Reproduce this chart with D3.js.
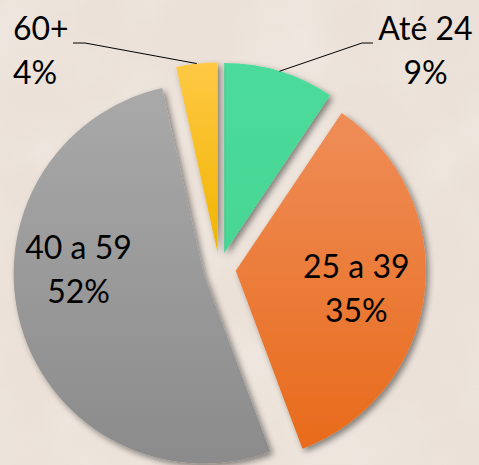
<!DOCTYPE html>
<html><head><meta charset="utf-8">
<script src="https://cdn.jsdelivr.net/npm/d3@7"></script>
<style>html,body{margin:0;padding:0;background:#ECE3DB;overflow:hidden}</style>
</head><body><svg id="c" width="479" height="465"></svg>
<script>
// ---- data ----
const categories = ["Até 24", "25 a 39", "40 a 59", "60+"];
const values = [9.4, 34.9, 52.2, 3.5];
const percentLabels = ["9%", "35%", "52%", "4%"];

// ---- layout / style ----
const W = 479, H = 465;
const cx = 219.4, cy = 268.8, R = 190, explode = 16.5;
const sliceColors = [
  ["#4CDB9A", "#47D694"],
  ["#EF8D58", "#E86B1B"],
  ["#A9A9A9", "#8B8B8B"],
  ["#FFC945", "#F0B400"]
];
const labelLayout = [
  {type: "out", x: 425.5, y: 40, anchor: "middle", lineStart: [[373, 43], [362, 43]]},
  {type: "in", angle: 93.3, r: 120.7},
  {type: "in", angle: 276.4, r: 125.8},
  {type: "out", x: 13, y: 40, anchor: "start", lineStart: [[73, 43], [85, 43]]}
];
const fontFamily = "Lato, 'Open Sans', sans-serif";
const fontSize = 32, lineGap = 44;

const svg = d3.select("#c");
const defs = svg.append("defs");

// background texture
const tex = defs.append("filter").attr("id", "tex").attr("x", 0).attr("y", 0).attr("width", 1).attr("height", 1);
tex.append("feTurbulence").attr("type", "fractalNoise").attr("baseFrequency", 0.012).attr("numOctaves", 3).attr("seed", 4).attr("result", "n");
tex.append("feColorMatrix").attr("in", "n").attr("type", "matrix")
  .attr("values", "0 0 0 0 1  0 0 0 0 1  0 0 0 0 1  1.2 0 0 0 -0.45");
svg.append("rect").attr("width", W).attr("height", H).attr("fill", "#EBE1D8");
svg.append("rect").attr("width", W).attr("height", H).attr("fill", "#fff").attr("filter", "url(#tex)").attr("opacity", 0.35);

// shadow
const sh = defs.append("filter").attr("id", "sh").attr("x", "-20%").attr("y", "-20%").attr("width", "140%").attr("height", "140%");
sh.append("feDropShadow").attr("dx", 3).attr("dy", 3).attr("stdDeviation", 3)
  .attr("flood-color", "#000").attr("flood-opacity", 0.45);

sliceColors.forEach((c, i) => {
  const g = defs.append("linearGradient").attr("id", "g" + i).attr("x1", 0).attr("y1", 0).attr("x2", 0).attr("y2", 1);
  g.append("stop").attr("offset", "0%").attr("stop-color", c[0]);
  g.append("stop").attr("offset", "100%").attr("stop-color", c[1]);
});

const pie = d3.pie().sort(null).value(d => d)(values);
const arc = d3.arc().innerRadius(0).outerRadius(R);

const root = svg.append("g").attr("transform", `translate(${cx},${cy})`);

const apex = d => {
  const m = (d.startAngle + d.endAngle) / 2;
  return [explode * Math.sin(m), -explode * Math.cos(m)];
};

root.selectAll("path.slice").data(pie).join("path")
  .attr("class", "slice")
  .attr("transform", d => `translate(${apex(d)})`)
  .attr("d", arc)
  .attr("fill", (d, i) => `url(#g${i})`)
  .attr("filter", "url(#sh)");

// labels
pie.forEach((d, i) => {
  const L = labelLayout[i];
  const [ax, ay] = apex(d);
  let x, y, anchor;
  if (L.type === "in") {
    const a = L.angle * Math.PI / 180;
    x = cx + ax + L.r * Math.sin(a);
    y = cy + ay - L.r * Math.cos(a);
    anchor = "middle";
  } else {
    x = L.x; y = L.y; anchor = L.anchor;
    const m = (d.startAngle + d.endAngle) / 2;
    const end = [cx + ax + R * Math.sin(m), cy + ay - R * Math.cos(m)];
    const pts = L.lineStart.concat([end]);
    svg.append("path").attr("d", d3.line()(pts))
      .attr("fill", "none").attr("stroke", "#000").attr("stroke-width", 1);
  }
  const t = svg.append("text").attr("x", x).attr("y", y)
    .attr("text-anchor", anchor)
    .attr("font-family", fontFamily).attr("font-size", fontSize).attr("fill", "#000");
  t.append("tspan").attr("x", x).attr("y", y).text(categories[i]);
  t.append("tspan").attr("x", x).attr("y", y + lineGap).text(percentLabels[i]);
});
</script>
</body></html>
